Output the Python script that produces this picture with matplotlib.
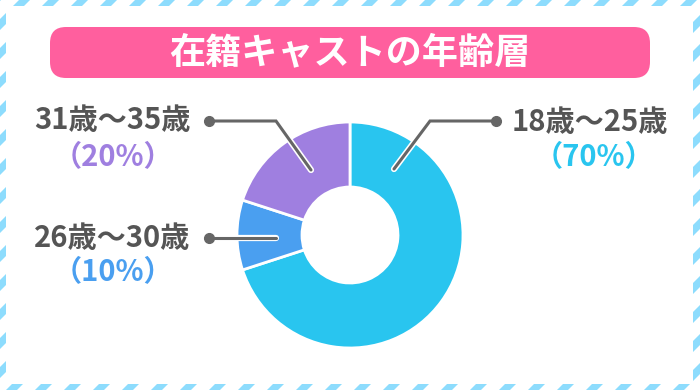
import matplotlib
matplotlib.use('Agg')
import matplotlib.pyplot as plt
from matplotlib.patches import Rectangle, FancyBboxPatch, Polygon
import matplotlib.patheffects as pe

plt.rcParams['font.family'] = ['Noto Sans CJK JP', 'DejaVu Sans']

# ---- data ----
title = '在籍キャストの年齢層'
categories = ['18歳～25歳', '26歳～30歳', '31歳～35歳']
shares = [70, 10, 20]
slice_colors = ['#29c5ef', '#4a9ff0', '#9f7fe0']

# ---- layout (pixel coords, y measured from top) ----
W, H = 700, 390
center = (350, 235)
r_out, r_in = 113, 48
label_pos = [(590, 122), (112, 238), (112, 120)]
pct_pos = [(594, 157), (113, 272), (113, 157)]
leader_pts = [
    [(496, 121), (430, 121), (394, 169)],
    [(209, 238), (276, 238)],
    [(209, 121), (276, 121), (311, 170)],
]

def Y(y):
    return H - y

fig = plt.figure(figsize=(7, 3.9), dpi=100)
ax = fig.add_axes([0, 0, 1, 1])

# striped frame
stripe = '#8ddcfd'
period, sw = 29, 11
for c in range(-800, 800, period):
    ax.add_patch(Polygon([(-50, -50 + c), (900, 900 + c), (900, 900 + c + sw), (-50, -50 + c + sw)],
                         closed=True, facecolor=stripe, lw=0, zorder=0))
ax.add_patch(Rectangle((6, Y(384)), 687, 378, facecolor='white', lw=0, zorder=1))

# title box
ax.add_patch(FancyBboxPatch((50, Y(78)), 600, 51, boxstyle='round,pad=0,rounding_size=16',
                            facecolor='#ff5f9e', edgecolor='none', zorder=2))
ax.text(350, Y(53), title, ha='center', va='center', color='white', fontsize=26,
        fontweight='bold', zorder=3)

# donut
wedges, _ = ax.pie(shares, colors=slice_colors, startangle=90, counterclock=False,
                   radius=r_out, center=(center[0], Y(center[1])), frame=True,
                   wedgeprops=dict(width=r_out - r_in, edgecolor='white', linewidth=2))
for w in wedges:
    w.set_zorder(3)

# leaders and labels
for cat, v, col, lp, pp, pts in zip(categories, shares, slice_colors, label_pos, pct_pos, leader_pts):
    xs = [p[0] for p in pts]
    ys = [Y(p[1]) for p in pts]
    ax.plot(xs, ys, color='#666666', lw=2.2, solid_capstyle='round', solid_joinstyle='miter',
            path_effects=[pe.Stroke(linewidth=4.5, foreground='white'), pe.Normal()], zorder=5)
    ax.plot(xs[0], ys[0], 'o', ms=7, color='#666666', zorder=6)
    ax.text(lp[0], Y(lp[1]), cat, ha='center', va='center', color='#555555', fontsize=21,
            fontweight='bold', zorder=6)
    ax.text(pp[0], Y(pp[1]), f'（{v}%）', ha='center', va='center', color=col, fontsize=21,
            fontweight='bold', zorder=6)

ax.set_xlim(0, W)
ax.set_ylim(0, H)
ax.axis('off')
fig.savefig('out.png', dpi=100)
